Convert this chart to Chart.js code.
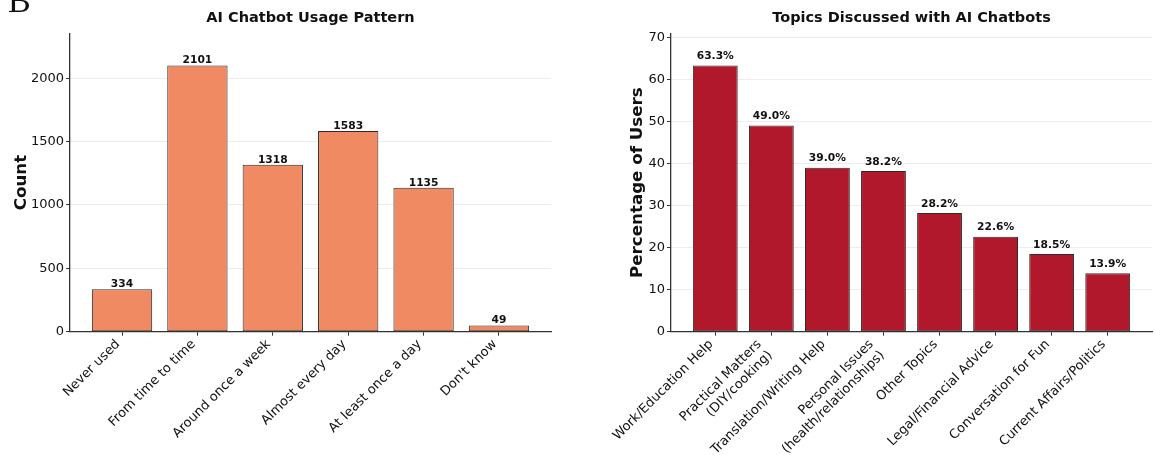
<!DOCTYPE html>
<html>
<head>
<meta charset="utf-8">
<script src="https://cdn.jsdelivr.net/npm/chart.js@4.4.1/dist/chart.umd.min.js"></script>
<style>
  html, body { margin: 0; padding: 0; background: #fff; }
  #wrap { position: relative; width: 1155px; height: 455px; overflow: hidden; }
  canvas { position: absolute; top: 0; }
  #panel-letter { position: absolute; left: 8px; top: -16px; font-family: 'Liberation Serif', serif; font-size: 34px; line-height: 34px; color: #111; }
</style>
</head>
<body>
<div id="wrap">
  <canvas id="usageChart" width="578" height="455" style="left:0;"></canvas>
  <canvas id="topicChart" width="577" height="455" style="left:578px;"></canvas>
  <div id="panel-letter">B</div>
</div>
<script>
// データ
const usageLabels = ['Never used', 'From time to time', 'Around once a week', 'Almost every day', 'At least once a day', "Don't know"];
const usageCounts = [334, 2101, 1318, 1583, 1135, 49];
const usageTicks = [0, 500, 1000, 1500, 2000];

const topicLabels = [
  ['Work/Education Help'],
  ['Practical Matters', '(DIY/cooking)'],
  ['Translation/Writing Help'],
  ['Personal Issues', '(health/relationships)'],
  ['Other Topics'],
  ['Legal/Financial Advice'],
  ['Conversation for Fun'],
  ['Current Affairs/Politics']
];
const topicPercents = [63.3, 49.0, 39.0, 38.2, 28.2, 22.6, 18.5, 13.9];
const topicTicks = [0, 10, 20, 30, 40, 50, 60, 70];

const FONT = "'DejaVu Sans', sans-serif";
const TEXT = '#111';

// 棒の上に値を表示するプラグイン
const valueLabels = {
  id: 'valueLabels',
  afterDatasetsDraw(chart, args, opts) {
    const ctx = chart.ctx;
    const yScale = chart.scales.y;
    const meta = chart.getDatasetMeta(0);
    ctx.save();
    ctx.font = `bold 10.7px ${FONT}`;
    ctx.fillStyle = TEXT;
    ctx.textAlign = 'center';
    ctx.textBaseline = 'alphabetic';
    meta.data.forEach((bar, i) => {
      const v = chart.data.datasets[0].data[i].y;
      ctx.fillText(opts.format(v), bar.x, yScale.getPixelForValue(v + opts.offset));
    });
    ctx.restore();
  }
};

// プロット領域の中央にタイトルを描く
const panelTitle = {
  id: 'panelTitle',
  afterDraw(chart, args, opts) {
    const { ctx, chartArea } = chart;
    ctx.save();
    ctx.font = `bold 14.5px ${FONT}`;
    ctx.fillStyle = TEXT;
    ctx.textAlign = 'center';
    ctx.textBaseline = 'alphabetic';
    ctx.fillText(opts.text, (chartArea.left + chartArea.right) / 2, 22);
    ctx.restore();
  }
};

// 2行ラベルはブロック全体を右揃えにするため左へずらす
const multiLineShift = {
  id: 'multiLineShift',
  beforeDraw(chart) {
    const scale = chart.scales.x;
    const items = scale.getLabelItems();
    items.forEach(item => {
      if (Array.isArray(item.label) && item.label.length > 1 && !item._shifted) {
        item.options.translation[0] -= 8;
        item._shifted = true;
      }
    });
  }
};

function makeChart(canvasId, labels, values, ticks, yMax, color, title, yTitle, axisWidth, rightPad, titlePad, labelOpts) {
  const n = labels.length;
  const margin = 0.05 * (n - 1 + 0.8);
  new Chart(document.getElementById(canvasId), {
    type: 'bar',
    data: {
      datasets: [{
        data: values.map((v, i) => ({ x: i, y: v })),
        backgroundColor: color,
        borderColor: '#2b2b2b',
        borderWidth: 1,
        borderSkipped: false,
        barPercentage: 0.8,
        categoryPercentage: 1.0
      }]
    },
    options: {
      responsive: false,
      devicePixelRatio: 1,
      animation: false,
      layout: { padding: { left: 0, right: rightPad, top: 33.5, bottom: 0 } },
      plugins: {
        legend: { display: false },
        tooltip: { enabled: false },
        title: { display: false },
        panelTitle: { text: title },
        valueLabels: labelOpts
      },
      scales: {
        x: {
          type: 'linear',
          offset: false,
          min: -0.4 - margin,
          max: n - 1 + 0.4 + margin,
          afterBuildTicks: (scale) => { scale.ticks = labels.map((_, i) => ({ value: i })); },
          afterFit: (scale) => {
            scale.height = 123.3;
            scale.paddingLeft = 0; scale.paddingRight = 0;
            scale.paddingTop = 0; scale.paddingBottom = 0;
          },
          ticks: {
            autoSkip: false,
            minRotation: 45,
            maxRotation: 45,
            padding: 1,
            labelOffset: -4,
            color: TEXT,
            font: { family: FONT, size: 13 },
            callback: (v) => labels[v]
          },
          grid: { offset: false, drawOnChartArea: false, drawTicks: true, tickLength: 4, tickColor: '#333', tickWidth: 1 },
          border: { display: true, color: '#333', width: 1.3 }
        },
        y: {
          min: 0,
          max: yMax,
          afterBuildTicks: (scale) => { scale.ticks = ticks.map(t => ({ value: t })); },
          afterFit: (scale) => {
            scale.width = axisWidth;
            scale.paddingLeft = 0; scale.paddingRight = 0;
            scale.paddingTop = 0; scale.paddingBottom = 0;
          },
          ticks: {
            padding: 2,
            color: TEXT,
            font: { family: FONT, size: 13 },
            callback: (v) => String(v)
          },
          grid: { color: '#ededed', lineWidth: 1, drawTicks: true, tickLength: 4, tickColor: '#333' },
          border: { display: true, color: '#333', width: 1.3 },
          title: {
            display: true,
            text: yTitle,
            color: TEXT,
            font: { family: FONT, size: 16.7, weight: 'bold', lineHeight: 1.2 },
            padding: { top: titlePad, bottom: 0 }
          }
        }
      }
    },
    plugins: [valueLabels, panelTitle, multiLineShift]
  });
}

makeChart('usageChart', usageLabels, usageCounts, usageTicks, Math.max(...usageCounts) * 1.12,
  '#ef8a62', 'AI Chatbot Usage Pattern', 'Count', 70, 27, 12,
  { offset: 16, format: (v) => String(v) });

makeChart('topicChart', topicLabels, topicPercents, topicTicks, Math.max(...topicPercents) * 1.12,
  '#b2182b', 'Topics Discussed with AI Chatbots', 'Percentage of Users', 93, 3, 50,
  { offset: 1.5, format: (v) => v.toFixed(1) + '%' });
</script>
</body>
</html>
